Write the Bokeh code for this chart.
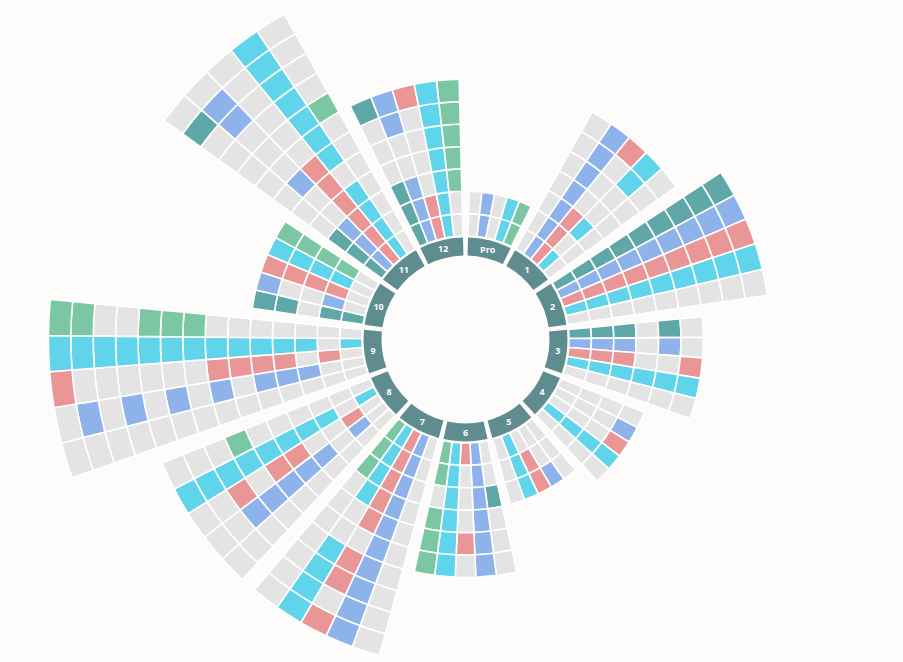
import math
from bokeh.plotting import figure
from bokeh.models import ColumnDataSource, Range1d
from bokeh.embed import file_html
from bokeh.resources import INLINE
from bokeh.core.properties import value

# ---------------- data ----------------
sectors = ["Pro", "1", "2", "3", "4", "5", "6", "7", "8", "9", "10", "11", "12"]
categories = ["teal", "blue", "red", "cyan", "green"]
cat_colors = ["#60a8a8", "#8eb3ea", "#ea9696", "#60d4ea", "#7cc7a3"]
empty_color = "#e4e4e4"

# one list per category (teal, blue, red, cyan, green); inner ring -> outer ring
s_pro = [[0, 0], [1, 1], [0, 0], [1, 1], [1, 1]]
s_1 = [[0, 0, 0, 0, 0, 0, 0], [1, 1, 1, 1, 1, 1, 1], [1, 1, 1, 0, 0, 0, 1],
       [1, 0, 1, 0, 0, 1, 1], [0, 0, 0, 0, 0, 0, 0]]
s_2 = [[1] * 9, [1] * 9, [1] * 9, [1] * 9, [0] * 9]
s_3 = [[1, 1, 1, 0, 1, 0], [1, 1, 1, 0, 1, 0], [1, 1, 1, 0, 0, 1],
       [1, 1, 1, 1, 1, 1], [0, 0, 0, 0, 0, 0]]
s_4 = [[0, 0, 0, 0], [0, 0, 0, 1], [0, 0, 0, 1], [1, 1, 1, 1], [0, 0, 0, 0]]
s_5 = [[0, 0, 0], [0, 0, 1], [0, 1, 1], [1, 1, 1], [0, 0, 0]]
s_6 = [[0, 0, 1, 0, 0, 0], [1, 1, 1, 1, 1, 1], [1, 0, 0, 0, 1, 0],
       [1, 1, 1, 1, 1, 1], [1, 1, 0, 1, 1, 1]]
s_7 = [[0] * 10, [1] * 10, [1, 1, 1, 1, 1, 0, 1, 1, 0, 1],
       [1, 1, 1, 1, 0, 0, 1, 1, 1, 1], [1, 1, 1, 0, 0, 0, 0, 0, 0, 0]]
s_8 = [[0] * 10, [0, 1, 0, 1, 1, 1, 1, 1, 0, 0], [0, 1, 0, 0, 1, 1, 0, 1, 0, 0],
       [1, 0, 1, 1, 1, 1, 1, 1, 1, 1], [0, 0, 0, 0, 0, 0, 1, 0, 0, 0]]
s_9 = [[0] * 14,
       [0, 0, 1, 1, 1, 0, 1, 0, 1, 0, 1, 0, 1, 0],
       [0, 1, 0, 1, 1, 1, 1, 0, 0, 0, 0, 0, 0, 1],
       [1, 0, 1, 1, 1, 1, 1, 1, 1, 1, 1, 1, 1, 1],
       [0, 0, 0, 0, 0, 0, 0, 1, 1, 1, 0, 0, 1, 1]]
s_10 = [[1, 1, 0, 1, 1], [0, 1, 0, 0, 1], [0, 1, 1, 1, 1], [0, 1, 1, 1, 1], [0, 1, 1, 1, 1]]
s_11 = [[1, 1, 1, 0, 0, 0, 0, 0, 0, 0, 1, 0],
        [1, 1, 1, 0, 0, 1, 0, 0, 0, 1, 1, 0],
        [1, 1, 1, 1, 1, 1, 0, 0, 0, 0, 0, 0],
        [1, 1, 1, 1, 0, 1, 1, 1, 1, 1, 1, 1],
        [0, 0, 0, 0, 0, 0, 0, 1, 0, 0, 0, 0]]
s_12 = [[1, 1, 1, 0, 0, 0, 1], [1, 1, 1, 0, 0, 1, 1], [1, 1, 0, 0, 0, 0, 1],
        [1, 1, 1, 1, 1, 1, 1], [0, 0, 1, 1, 1, 1, 1]]
sector_data = [s_pro, s_1, s_2, s_3, s_4, s_5, s_6, s_7, s_8, s_9, s_10, s_11, s_12]

# ---------------- geometry ----------------
W, H = 903, 662
CX, CY = 465, 339          # centre in pixels from top-left of the plot
R_LAB_IN, R_LAB_OUT = 84, 102
R0, DR = 103.5, 22.4
GAP = math.radians(2.8)
SEC = 2 * math.pi / len(sectors)
COLW = (SEC - GAP) / len(categories)

p = figure(width=W, height=H, output_backend="svg", toolbar_location=None,
           x_range=Range1d(-CX, W - CX), y_range=Range1d(-(H - CY), CY),
           min_border=0, outline_line_color=None,
           background_fill_color="#fdfcfa", border_fill_color="#fdfcfa")
p.axis.visible = False
p.grid.visible = False

xs, ys, rin, rout, a0, a1, fc = [], [], [], [], [], [], []
for i, sdata in enumerate(sector_data):
    hi = math.pi / 2 - i * SEC - GAP / 2
    for c, col in enumerate(sdata):
        e = hi - c * COLW
        s = e - COLW
        for k, v in enumerate(col):
            xs.append(0); ys.append(0)
            rin.append(R0 + k * DR); rout.append(R0 + (k + 1) * DR)
            a0.append(s); a1.append(e)
            fc.append(cat_colors[c] if v else empty_color)

src = ColumnDataSource(dict(x=xs, y=ys, ri=rin, ro=rout, s=a0, e=a1, c=fc))
p.annular_wedge(x="x", y="y", inner_radius="ri", outer_radius="ro",
                start_angle="s", end_angle="e", fill_color="c",
                line_color="#ffffff", line_width=1.6, source=src)

# label ring
ls, le, lx, ly = [], [], [], []
rl = (R_LAB_IN + R_LAB_OUT) / 2
for i, name in enumerate(sectors):
    hi = math.pi / 2 - i * SEC - GAP / 2
    lo = hi - (SEC - GAP)
    ls.append(lo); le.append(hi)
    mid = (hi + lo) / 2
    lx.append(rl * math.cos(mid)); ly.append(rl * math.sin(mid))
lsrc = ColumnDataSource(dict(x=[0] * len(sectors), y=[0] * len(sectors), s=ls, e=le,
                             tx=lx, ty=ly, t=sectors))
p.annular_wedge(x="x", y="y", inner_radius=R_LAB_IN, outer_radius=R_LAB_OUT,
                start_angle="s", end_angle="e", fill_color="#5e8c8f",
                line_color=None, source=lsrc)
p.text(x="tx", y="ty", text="t", source=lsrc, text_color="#ffffff",
       text_font=value("Open Sans"), text_font_style="bold", text_font_size="9px",
       text_align="center", text_baseline="middle")

open("out.html", "w").write(file_html(p, INLINE))
